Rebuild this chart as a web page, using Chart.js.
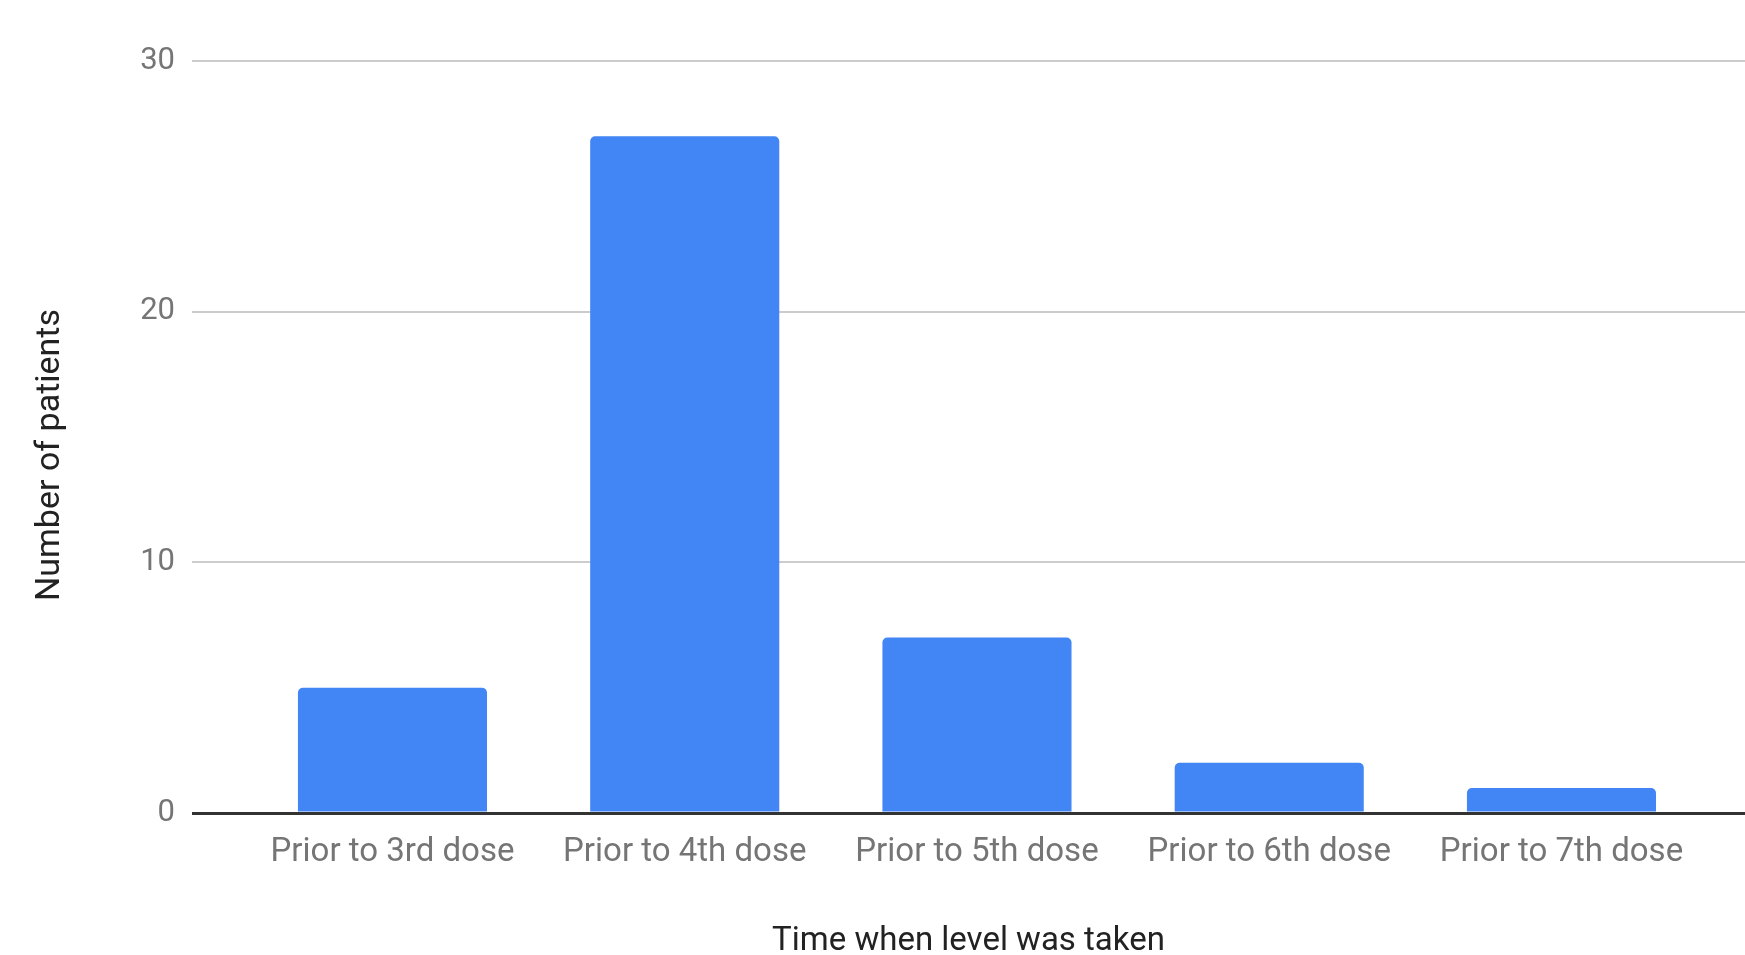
<!DOCTYPE html>
<html>
<head>
<meta charset="utf-8">
<script src="https://cdn.jsdelivr.net/npm/chart.js@4"></script>
<style>
  html, body { margin: 0; padding: 0; background: #fff; overflow: hidden; }
  #wrap { width: 1745px; height: 955px; }
</style>
</head>
<body>
<div id="wrap"><canvas id="grafico"></canvas></div>
<script>
const categorias = ['Prior to 3rd dose', 'Prior to 4th dose', 'Prior to 5th dose', 'Prior to 6th dose', 'Prior to 7th dose']
const pacientes = [5, 27, 7, 2, 1]
const yTicks = [0, 10, 20, 30]
const xTitulo = 'Time when level was taken'
const yTitulo = 'Number of patients'

// y title drawn by hand so it sits where the original puts it
const tituloY = {
    id: 'tituloY',
    afterDraw(chart) {
        const { ctx, chartArea } = chart
        ctx.save()
        ctx.translate(50, (chartArea.top + chartArea.bottom) / 2 + 18)
        ctx.rotate(-Math.PI / 2)
        ctx.font = '34px Roboto'
        ctx.fillStyle = '#222222'
        ctx.textAlign = 'center'
        ctx.textBaseline = 'middle'
        ctx.fillText(yTitulo, 0, 0)
        ctx.restore()
    }
}

const grafico = new Chart(document.getElementById('grafico'), {
    type: 'bar',
    data: {
        datasets: [{
            label: yTitulo,
            data: pacientes.map((v, i) => ({ x: i, y: v })),
            backgroundColor: '#4285f4',
            borderRadius: 5,
            borderSkipped: 'start',
            barPercentage: 0.647,
            categoryPercentage: 1
        }]
    },
    options: {
        responsive: true,
        maintainAspectRatio: false,
        devicePixelRatio: 1,
        animation: false,
        layout: { padding: { top: 61, left: 0, right: 0, bottom: 0 } },
        plugins: {
            legend: { display: false },
            tooltip: { enabled: false }
        },
        scales: {
            x: {
                type: 'linear',
                offset: false,
                min: -0.686,
                max: 4.628,
                grid: { display: false },
                border: { display: false },
                afterBuildTicks: s => { s.ticks = categorias.map((c, i) => ({ value: i })) },
                afterFit: s => { s.height = 142 },
                ticks: {
                    callback: v => categorias[v],
                    font: { family: 'Roboto', size: 33 },
                    color: '#757575',
                    padding: 12,
                    maxRotation: 0,
                    autoSkip: false
                },
                title: {
                    display: true,
                    text: xTitulo,
                    font: { family: 'Roboto', size: 33 },
                    color: '#222222',
                    padding: { top: 0, bottom: -7 }
                }
            },
            y: {
                min: 0,
                max: 30,
                afterBuildTicks: s => { s.ticks = yTicks.map(v => ({ value: v })) },
                afterFit: s => { s.width = 192 },
                border: { display: false },
                grid: {
                    drawTicks: false,
                    color: c => c.tick.value === 0 ? '#333333' : '#cccccc',
                    lineWidth: c => c.tick.value === 0 ? 3 : 2
                },
                ticks: {
                    font: { family: 'Roboto', size: 31 },
                    color: '#757575',
                    padding: 17
                }
            }
        }
    },
    plugins: [tituloY]
})
</script>
</body>
</html>
